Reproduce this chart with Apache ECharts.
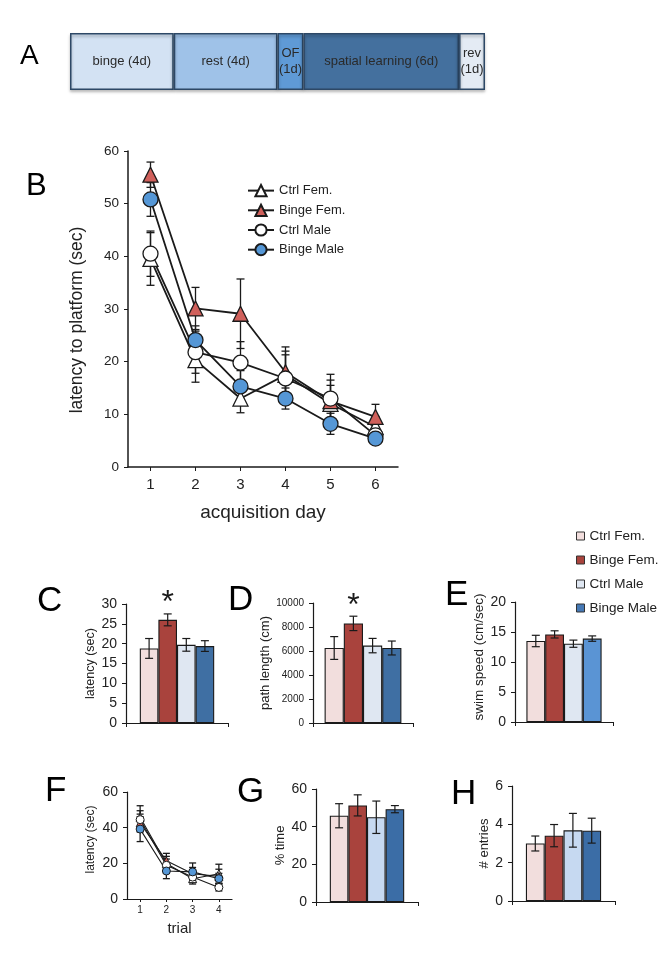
<!DOCTYPE html>
<html><head><meta charset="utf-8">
<script src="https://cdn.jsdelivr.net/npm/echarts@6/dist/echarts.min.js"></script>
<style>html,body{margin:0;padding:0;background:#fff;}#c{width:672px;height:953px;}</style>
</head><body><div id="c"></div>
<script>
// ---------------- DATA ----------------
const groups = ['Ctrl Fem.', 'Binge Fem.', 'Ctrl Male', 'Binge Male'];

// Panel A: timeline
const phaseLabels = ['binge (4d)', 'rest (4d)', 'OF\n(1d)', 'spatial learning (6d)', 'rev\n(1d)'];
const phaseDays = [4, 4, 1, 6, 1];

// Panel B: acquisition
const days = ['1', '2', '3', '4', '5', '6'];
const bCtrlFem = [39.5, 20.3, 13.0, 17.5, 12.0, 7.6];
const bCtrlFemErr = [5.0, 4.2, 2.7, 4.5, 3.5, 2.0];
const bBingeFem = [55.5, 30.1, 29.1, 18.0, 12.5, 9.5];
const bBingeFemErr = [2.4, 4.0, 6.6, 4.8, 4.0, 2.4];
const bCtrlMale = [40.5, 21.8, 19.8, 16.8, 13.0, 6.0];
const bCtrlMaleErr = [4.3, 4.0, 4.0, 4.5, 4.6, 1.5];
const bBingeMale = [50.8, 24.1, 15.3, 13.0, 8.2, 5.4];
const bBingeMaleErr = [3.2, 2.7, 3.0, 2.0, 2.0, 1.0];

// Panel C: latency
const cMean = [18.8, 26.0, 19.7, 19.4];
const cErr = [2.5, 1.5, 1.6, 1.35];
// Panel D: path length
const dMean = [6250, 8300, 6450, 6250];
const dErr = [950, 600, 600, 580];
// Panel E: swim speed
const eMean = [13.5, 14.6, 13.05, 13.9];
const eErr = [0.95, 0.6, 0.6, 0.45];

// Panel F: reversal trials
const trials = ['1', '2', '3', '4'];
const fCtrlFem = [45.8, 19.9, 11.4, 14.2];
const fCtrlFemErr = [6.5, 4.0, 3.0, 5.3];
const fBingeFem = [42.6, 21.4, 14.2, 12.7];
const fBingeFemErr = [5.0, 4.2, 3.5, 4.0];
const fCtrlMale = [44.5, 18.9, 12.3, 6.5];
const fCtrlMaleErr = [5.0, 3.5, 3.0, 2.0];
const fBingeMale = [39.2, 15.7, 15.2, 11.4];
const fBingeMaleErr = [7.0, 4.3, 5.0, 3.0];

// Panel G: % time
const gMean = [45.8, 51.3, 45.0, 49.3];
const gErr = [6.4, 5.6, 8.6, 1.9];
// Panel H: # entries
const hMean = [3.0, 3.41, 3.69, 3.67];
const hErr = [0.39, 0.58, 0.88, 0.65];

// ---------------- STYLE ----------------
const FONT = '"Liberation Sans", Arial, Helvetica, sans-serif';
const INK = '#1a1a1a';
const phaseColors = ['#d3e2f3', '#9fc2e8', '#5f9ad6', '#44709e', '#e4ebf4'];
const barColorsCD = ['#f2dedd', '#a9433d', '#dfe7f2', '#3f6fa3'];
const barColorsE = ['#f2dedd', '#a9433d', '#dfe7f2', '#5a94d4'];
const barColorsGH = ['#f2dedd', '#a9433d', '#c6d9f1', '#3b6da6'];
const legendColorsE = ['#f2dedd', '#a9433d', '#dfe7f2', '#4679b5'];

const chart = echarts.init(document.getElementById('c'), null, { renderer: 'canvas' });

function errRender(offsets, capW, lw) {
  return function (params, api) {
    const k = api.value(3);
    const off = offsets ? offsets[k] : 0;
    const a = api.coord([api.value(0), api.value(1)]);
    const b = api.coord([api.value(0), api.value(2)]);
    const x = a[0] + off;
    const st = { stroke: INK, lineWidth: lw };
    return { type: 'group', children: [
      { type: 'line', shape: { x1: x, y1: a[1], x2: x, y2: b[1] }, style: st },
      { type: 'line', shape: { x1: x - capW / 2, y1: a[1], x2: x + capW / 2, y2: a[1] }, style: st },
      { type: 'line', shape: { x1: x - capW / 2, y1: b[1], x2: x + capW / 2, y2: b[1] }, style: st }
    ]};
  };
}

function yAx(g, min, max, interval, labelSize, name, nameSize, nameGap, extra) {
  return Object.assign({
    type: 'value', gridIndex: g, min: min, max: max, interval: interval,
    axisLine: { show: true, lineStyle: { color: INK, width: 1.2 } },
    axisTick: { show: true, length: 4, lineStyle: { color: INK, width: 1 } },
    splitLine: { show: false },
    axisLabel: { fontSize: labelSize, color: '#222', margin: 9, fontFamily: FONT,
      formatter: function (v) { return String(v); } },
    name: name, nameLocation: 'middle', nameGap: nameGap, nameRotate: 90,
    nameTextStyle: { fontSize: nameSize, color: '#222', fontFamily: FONT }
  }, extra || {});
}
function xCatSingle(g) {
  return {
    type: 'category', gridIndex: g, data: [''], boundaryGap: true,
    axisLine: { show: true, lineStyle: { color: INK, width: 1.2 } },
    axisTick: { show: true, length: 4, lineStyle: { color: INK, width: 1 } },
    axisLabel: { show: false }
  };
}

const grids = [
  { left: 70, top: 33, width: 415, height: 57 },      // A
  { left: 128, top: 151, width: 270, height: 316 },   // B
  { left: 126, top: 604, width: 102, height: 119 },   // C
  { left: 313, top: 603, width: 100, height: 120 },   // D
  { left: 515, top: 602, width: 98, height: 120 },    // E
  { left: 127, top: 792, width: 105, height: 107 },   // F
  { left: 316, top: 789, width: 102, height: 113 },   // G
  { left: 512, top: 786, width: 103, height: 115 }    // H
];

const xAxes = [
  { type: 'value', gridIndex: 0, min: 0, max: 16, show: false },
  { type: 'category', gridIndex: 1, data: days, boundaryGap: true,
    axisLine: { show: true, lineStyle: { color: INK, width: 1.5 } },
    axisTick: { show: true, alignWithLabel: true, length: 4, lineStyle: { color: INK } },
    axisLabel: { fontSize: 15, color: '#222', margin: 10, fontFamily: FONT },
    name: 'acquisition day', nameLocation: 'middle', nameGap: 36,
    nameTextStyle: { fontSize: 19, color: '#222', fontFamily: FONT } },
  xCatSingle(2), xCatSingle(3), xCatSingle(4),
  { type: 'category', gridIndex: 5, data: trials, boundaryGap: true,
    axisLine: { show: true, lineStyle: { color: INK, width: 1.2 } },
    axisTick: { show: true, alignWithLabel: true, length: 3, lineStyle: { color: INK } },
    axisLabel: { fontSize: 10, color: '#222', margin: 6, fontFamily: FONT },
    name: 'trial', nameLocation: 'middle', nameGap: 22,
    nameTextStyle: { fontSize: 15, color: '#222', fontFamily: FONT } },
  xCatSingle(6), xCatSingle(7)
];

const yAxes = [
  { type: 'category', gridIndex: 0, data: ['timeline'], show: false },
  yAx(1, 0, 60, 10, 13.5, 'latency to platform (sec)', 17.5, 42,
      { nameTextStyle: { fontSize: 17.5, color: '#222', fontFamily: FONT, padding: [0, 22, 0, 0] },
        axisLine: { show: true, lineStyle: { color: INK, width: 1.5 } } }),
  yAx(2, 0, 30, 5, 14, 'latency (sec)', 12.5, 29),
  yAx(3, 0, 10000, 2000, 10, 'path length (cm)', 13, 39),
  yAx(4, 0, 20, 5, 14, 'swim speed (cm/sec)', 13.5, 29,
      { nameTextStyle: { fontSize: 13.5, color: '#222', fontFamily: FONT, padding: [0, 0, 0, 10] } }),
  yAx(5, 0, 60, 20, 14, 'latency (sec)', 12, 30,
      { nameTextStyle: { fontSize: 12, color: '#222', fontFamily: FONT, padding: [0, 0, 0, 12] } }),
  yAx(6, 0, 60, 20, 14, '% time', 13, 29),
  yAx(7, 0, 6, 2, 14, '# entries', 13, 21)
];

const series = [];

// Panel B lines (first so legend picks line icons)
const bSets = [
  [bCtrlFem, bCtrlFemErr, 'triangle', '#ffffff'],
  [bBingeFem, bBingeFemErr, 'triangle', '#d0605b'],
  [bCtrlMale, bCtrlMaleErr, 'circle', '#ffffff'],
  [bBingeMale, bBingeMaleErr, 'circle', '#5597d6']
];
const bErrData = [];
bSets.forEach(function (s, k) {
  series.push({
    type: 'line', name: groups[k], xAxisIndex: 1, yAxisIndex: 1, data: s[0],
    symbol: s[2], symbolSize: 15, z: 3,
    lineStyle: { color: INK, width: 1.8 },
    itemStyle: { color: s[3], borderColor: INK, borderWidth: 1.3 },
    emphasis: { disabled: true }
  });
  s[0].forEach(function (v, i) { bErrData.push([i, v - s[1][i], v + s[1][i], k]); });
});
series.push({ type: 'custom', xAxisIndex: 1, yAxisIndex: 1, z: 2, data: bErrData,
  encode: { x: 0, y: [1, 2] }, renderItem: errRender(null, 8, 1.3), silent: true });

// Panel A stacked timeline
phaseDays.forEach(function (d, k) {
  series.push({
    type: 'bar', name: phaseLabels[k], xAxisIndex: 0, yAxisIndex: 0, stack: 'phase',
    data: [d], barWidth: 57,
    itemStyle: { color: phaseColors[k], borderColor: '#2d4866', borderWidth: 1.5,
      shadowColor: 'rgba(0,0,0,0.3)', shadowBlur: 3, shadowOffsetY: 2 },
    label: { show: true, position: 'inside', formatter: phaseLabels[k], color: '#2a2a2a',
      fontSize: 13, fontFamily: FONT, lineHeight: 16 }
  });
});

// Bar panels
function barPanel(g, mean, err, colors, bw, star) {
  const offs = [-1.5 * bw, -0.5 * bw, 0.5 * bw, 1.5 * bw];
  mean.forEach(function (v, k) {
    const s = {
      type: 'bar', name: groups[k], xAxisIndex: g, yAxisIndex: g, data: [v],
      barWidth: bw, barGap: '0%', z: 2,
      itemStyle: { color: colors[k], borderColor: INK, borderWidth: 1.1 },
      emphasis: { disabled: true }
    };
    if (star && k === 1) {
      s.label = { show: true, position: 'top', formatter: '*', fontSize: 32,
        color: INK, fontFamily: FONT, distance: 1 };
    }
    series.push(s);
  });
  series.push({ type: 'custom', xAxisIndex: g, yAxisIndex: g, z: 4,
    data: mean.map(function (v, k) { return [0, v - err[k], v + err[k], k]; }),
    encode: { x: 0, y: [1, 2] }, renderItem: errRender(offs, 8, 1.2), silent: true });
}
barPanel(2, cMean, cErr, barColorsCD, 18.6, true);
barPanel(3, dMean, dErr, barColorsCD, 19.2, true);
barPanel(4, eMean, eErr, barColorsE, 18.8, false);

// Panel F lines
const fSets = [
  [fCtrlFem, fCtrlFemErr, 'triangle', '#ffffff'],
  [fBingeFem, fBingeFemErr, 'triangle', '#d0605b'],
  [fCtrlMale, fCtrlMaleErr, 'circle', '#ffffff'],
  [fBingeMale, fBingeMaleErr, 'circle', '#5597d6']
];
const fErrData = [];
fSets.forEach(function (s, k) {
  series.push({
    type: 'line', name: groups[k], xAxisIndex: 5, yAxisIndex: 5, data: s[0],
    symbol: s[2], symbolSize: 8, z: 3,
    lineStyle: { color: INK, width: 1.1 },
    itemStyle: { color: s[3], borderColor: INK, borderWidth: 1 },
    emphasis: { disabled: true }
  });
  s[0].forEach(function (v, i) { fErrData.push([i, v - s[1][i], v + s[1][i], k]); });
});
series.push({ type: 'custom', xAxisIndex: 5, yAxisIndex: 5, z: 2, data: fErrData,
  encode: { x: 0, y: [1, 2] }, renderItem: errRender(null, 7, 1.3), silent: true });

barPanel(6, gMean, gErr, barColorsGH, 18.6, false);
barPanel(7, hMean, hErr, barColorsGH, 18.8, false);

const panelLetters = [
  ['A', 20, 55, 28], ['B', 26, 186, 31], ['C', 37, 600, 35], ['D', 228, 599, 35],
  ['E', 445, 594, 35], ['F', 45, 790, 35], ['G', 237, 791, 35], ['H', 451, 793, 35]
];

chart.setOption({
  animation: false,
  backgroundColor: '#ffffff',
  textStyle: { fontFamily: FONT },
  grid: grids,
  xAxis: xAxes,
  yAxis: yAxes,
  legend: [
    { data: groups, orient: 'vertical', left: 242, top: 179, itemWidth: 26, itemHeight: 14,
      itemGap: 6.5, selectedMode: false, textStyle: { fontSize: 13, color: '#222', fontFamily: FONT } },
    { data: groups.map(function (n, k) {
        return { name: n, icon: 'rect', itemStyle: { color: legendColorsE[k], borderColor: '#333', borderWidth: 1 } };
      }),
      orient: 'vertical', left: 571, top: 524, itemWidth: 8, itemHeight: 8, itemGap: 10,
      selectedMode: false, textStyle: { fontSize: 13.5, color: '#222', fontFamily: FONT } }
  ],
  graphic: panelLetters.map(function (p) {
    return { type: 'text', left: p[1], top: p[2] - p[3] * 0.47, silent: true,
      style: { text: p[0], fontSize: p[3], fill: '#000', fontFamily: FONT } };
  }),
  series: series
});
</script></body></html>
